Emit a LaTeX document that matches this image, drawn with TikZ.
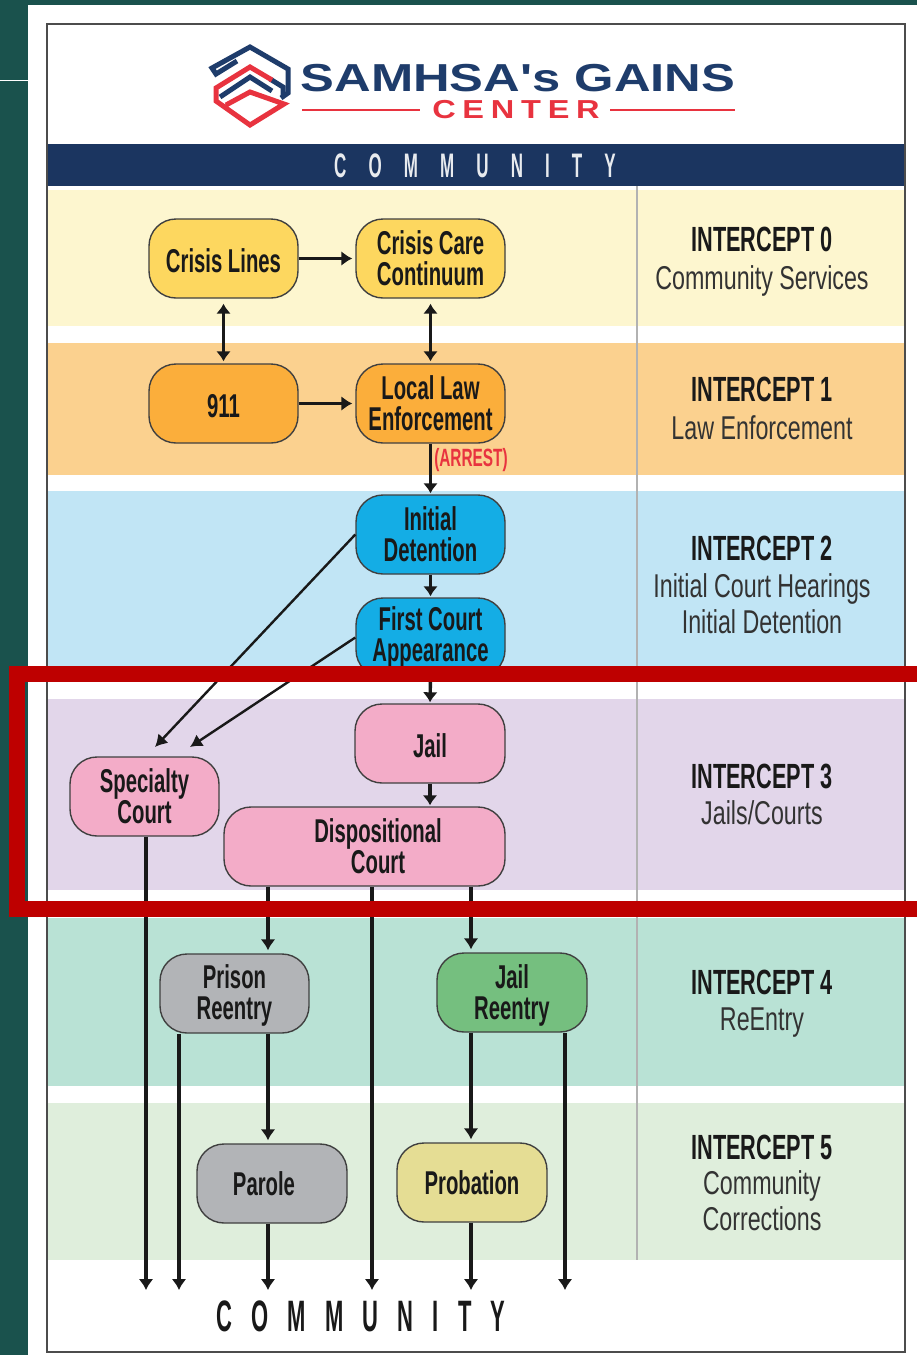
\documentclass[tikz,border=0pt]{standalone}
\usepackage{fontspec}
\usetikzlibrary{arrows.meta}
\setmainfont{Liberation Sans}
\newfontfamily\condB[FakeStretch=0.615]{Liberation Sans Bold}
\newfontfamily\condH[FakeStretch=0.62]{Liberation Sans Bold}
\newfontfamily\condR[FakeStretch=0.705]{Liberation Sans}
\newfontfamily\spacedB[FakeStretch=0.5,LetterSpace=65]{Liberation Sans Bold}
\newfontfamily\spacedC[FakeStretch=0.5,LetterSpace=43.5]{Liberation Sans Bold}
\newfontfamily\logofont[FakeStretch=1.3]{Liberation Sans Bold}
\newfontfamily\logofontb[FakeStretch=1.25,LetterSpace=26]{Liberation Sans Bold}
\definecolor{teal}{HTML}{1A524D}
\definecolor{navy}{HTML}{1B3560}
\definecolor{lnavy}{HTML}{1E3C6B}
\definecolor{lred}{HTML}{E8333F}
\definecolor{redbox}{HTML}{BE0000}
\definecolor{bandY}{HTML}{FDF6CF}
\definecolor{bandO}{HTML}{FBD18F}
\definecolor{bandB}{HTML}{C1E5F5}
\definecolor{bandP}{HTML}{E2D6EA}
\definecolor{bandT}{HTML}{B9E2D5}
\definecolor{bandG}{HTML}{DFEEDC}
\definecolor{nY}{HTML}{FDD75F}
\definecolor{nO}{HTML}{FBAE3B}
\definecolor{nB}{HTML}{14ADE5}
\definecolor{nP}{HTML}{F3ACC8}
\definecolor{nG}{HTML}{B2B4B7}
\definecolor{nE}{HTML}{75BF7F}
\definecolor{nK}{HTML}{E5DD94}
\tikzset{
  box/.style={draw=black!75,line width=1.4pt,rounded corners=27pt,minimum width=149pt,minimum height=79pt,inner sep=0pt,align=center,text=black!90,font=\fontsize{33}{31}\selectfont\condB},
  conn/.style={draw=black!90,line width=3.4pt,shorten >=3pt,-{Latex[length=11pt,width=15pt]}},
  connb/.style={draw=black!90,line width=3.4pt,shorten >=1pt,-{Latex[length=10pt,width=15pt]}},
  both/.style={draw=black!90,line width=3pt,shorten <=5pt,shorten >=2pt,{Latex[length=10pt,width=15pt]}-{Latex[length=10pt,width=15pt]}},
  diag/.style={draw=black!90,line width=2.4pt,-{Latex[length=12pt,width=14pt]}},
  head/.style={inner sep=0pt,text=black!90,font=\fontsize{35}{35}\selectfont\condH},
  sub/.style={inner sep=0pt,text=black!80,align=center,font=\fontsize{33}{36}\selectfont\condR},
  lognavy/.style={draw=lnavy,line width=5pt,line join=miter},
  logred/.style={draw=lred,line width=5pt,line join=miter},
}
\begin{document}
\begin{tikzpicture}[x=1pt,y=-1pt]
\useasboundingbox (0,0) rectangle (917,1355);
\fill[teal] (0,0) rectangle (917,1355);
\fill[white] (28,5) rectangle (917,1355);
\draw[white,line width=1pt] (0,80) -- (28,80);
\fill[white] (47,24) rectangle (905,1352);
% bands
\fill[navy] (47,144) rectangle (905,186);
\fill[bandY] (47,190) rectangle (905,326);
\fill[bandO] (47,343) rectangle (905,475);
\fill[bandB] (47,491) rectangle (905,682);
\fill[bandP] (47,699) rectangle (905,890);
\fill[bandT] (47,918) rectangle (905,1086);
\fill[bandG] (47,1103) rectangle (905,1260);
\draw[black!30,line width=1.2pt] (637,186) -- (637,1260);
\draw[black!70,line width=2pt] (47,24) rectangle (905,1352);
% logo
\draw[lognavy] (237,61) -- (216,74) -- (212,68) -- (250,47) -- (288,69) -- (288,93) -- (281,98);
\draw[lognavy] (270,79) -- (283,87) -- (283,95);
\draw[logred] (272,80) -- (250,67) -- (216,88) -- (216,101) -- (250,125) -- (284,104) -- (250,92) -- (226,105);
\draw[lognavy] (220,97) -- (250,77) -- (272,91);
\node[inner sep=0pt,anchor=center,text=lnavy,font=\fontsize{39}{39}\selectfont\logofont] (logotitle) at (518,78) {SAMHSA's GAINS};
\node[inner sep=0pt,text=lred,font=\fontsize{26}{26}\selectfont\logofontb] (logocenter) at (516,110) {CENTER};
\draw[lred,line width=1.6pt] (302,110) -- (420,110) (610,110) -- (735,110);
\node[inner sep=0pt,text=white!90!navy,font=\fontsize{34}{34}\selectfont\spacedB] (comtop) at (475,166) {COMMUNITY};
% nodes
\node[box,fill=nY] (lines) at (223.5,258.5) {\rule{0pt}{28pt}Crisis Lines};
\node[box,fill=nY] (care) at (430.5,258.5) {Crisis Care\\Continuum};
\node[box,fill=nO] (n911) at (223.5,403.5) {\rule{0pt}{28pt}911};
\node[box,fill=nO] (law) at (430.5,403.5) {Local Law\\Enforcement};
\node[box,fill=nB] (detention) at (430.5,534.5) {Initial\\Detention};
\node[box,fill=nB] (first) at (430.5,637.5) {First Court\\Appearance};
\node[box,fill=nP,minimum width=150pt] (jail) at (430,743.5) {\rule{0pt}{28pt}Jail};
\node[box,fill=nP] (specialty) at (144.5,796.5) {Specialty\\Court};
\node[box,fill=nP,minimum width=281pt] (disp) at (364.5,846.5) {\hspace*{27pt}Dispositional\\\hspace*{27pt}Court};
\node[box,fill=nG] (prison) at (234.5,993.5) {\rule{0pt}{27pt}Prison\\Reentry};
\node[box,fill=nE,minimum width=150pt] (jreentry) at (512,992.5) {\rule{0pt}{30pt}Jail\\Reentry};
\node[box,fill=nG,minimum width=150pt] (parole) at (272,1183.5) {Parole\hspace*{16pt}};
\node[box,fill=nK,minimum width=150pt] (probation) at (472,1182.5) {Probation};
% free ends
\coordinate (e1) at (146,1293);
\coordinate (e2) at (179,1293);
\coordinate (e3) at (268,1293);
\coordinate (e4) at (372,1293);
\coordinate (e5) at (471,1293);
\coordinate (e6) at (565,1293);
\coordinate (sp1) at (155,747);
\coordinate (sp2) at (190,747);
% connectors
\draw[conn] (lines.east) -- (care.west);
\draw[conn] (n911.east) -- (law.west);
\draw[both] (lines.south) -- (n911.north);
\draw[both] (care.south) -- (law.north);
\draw[connb] (law.south) -- (detention.north);
\draw[connb] (detention.south) -- (first.north);
\draw[connb] (first.south) -- (jail.north);
\draw[connb] (jail.south) -- (disp.north -| jail.south);
\draw[diag] (detention.west) -- (sp1);
\draw[diag] (first.west) -- (sp2);
\draw[conn] (specialty.south -| e1) -- (e1);
\draw[conn] (prison.south -| e2) -- (e2);
\draw[conn] (disp.south -| e3) -- (prison.north -| e3);
\draw[conn] (prison.south -| e3) -- (parole.north -| e3);
\draw[conn] (parole.south -| e3) -- (e3);
\draw[conn] (disp.south -| e4) -- (e4);
\draw[conn] (disp.south -| e5) -- (jreentry.north -| e5);
\draw[conn] (jreentry.south -| e5) -- (probation.north -| e5);
\draw[conn] (probation.south -| e5) -- (e5);
\draw[conn] (jreentry.south -| e6) -- (e6);
\node[inner sep=0pt,text=lred,font=\fontsize{25}{25}\selectfont\condB] (arrest) at (471,460) {(ARREST)};
% right labels
\node[head] (i0) at (762,239) {INTERCEPT 0};
\node[sub] (s0) at (762,281) {Community Services};
\node[head] (i1) at (762,389) {INTERCEPT 1};
\node[sub] (s1) at (762,428) {Law Enforcement};
\node[head] (i2) at (762,548) {INTERCEPT 2};
\node[sub,anchor=north] (s2) at (762,573) {Initial Court Hearings\\Initial Detention};
\node[head] (i3) at (762,776) {INTERCEPT 3};
\node[sub] (s3) at (762,813) {Jails/Courts};
\node[head] (i4) at (762,982) {INTERCEPT 4};
\node[sub] (s4) at (762,1023) {ReEntry};
\node[head] (i5) at (762,1147) {INTERCEPT 5};
\node[sub,anchor=north] (s5) at (762,1170) {Community\\Corrections};
\node[inner sep=0pt,text=black!90,font=\fontsize{44}{44}\selectfont\spacedC] (combot) at (361,1316) {COMMUNITY};
% highlight
\draw[redbox,line width=16pt] (950,674) -- (17,674) -- (17,909) -- (950,909);
\end{tikzpicture}
\end{document}
